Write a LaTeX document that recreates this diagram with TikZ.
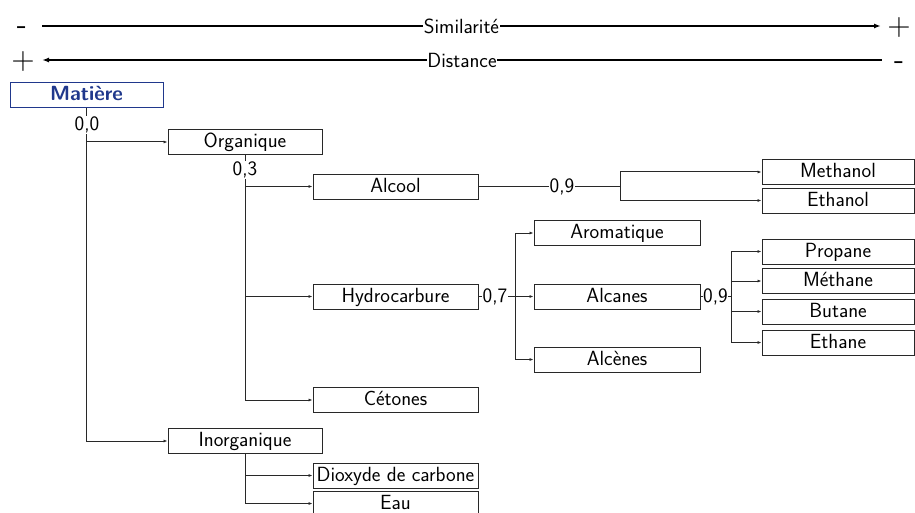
\documentclass[tikz,border=0pt]{standalone}
\usepackage{fontspec}
\usetikzlibrary{arrows.meta}
\definecolor{matblue}{RGB}{32,56,140}
\definecolor{linegray}{RGB}{40,40,40}
\begin{document}
\begin{tikzpicture}[x=1pt,y=-1pt,
  every node/.style={font=\sffamily\fontsize{20.5}{23}\selectfont},
  box/.style={draw=linegray,line width=0.9pt,minimum height=25pt,inner sep=0pt,text height=15pt,text depth=3.5pt,fill=white},
  wA/.style={box,minimum width=153pt},
  wB/.style={box,minimum width=165pt},
  wC/.style={box,minimum width=166pt},
  wD/.style={box,minimum width=152pt},
  lab/.style={fill=white,inner sep=1pt},
  conn/.style={draw=linegray,line width=1pt},
  arr/.style={conn,-{Latex[length=4pt,width=3pt]}},
  axis/.style={draw=black,line width=1.4pt},
  sign/.style={font=\sffamily\fontsize{32}{34}\selectfont,inner sep=0pt}]
\useasboundingbox (0,0) rectangle (915,513);

% axes
\node[sign] (m1) at (22,31) {-};
\node[sign] (p1) at (899,28) {+};
\node[sign] (p2) at (23,62) {+};
\node[sign] (m2) at (899,66) {-};
\coordinate (s0) at (42,26);
\coordinate (s1) at (881,26);
\coordinate (d0) at (42,60);
\coordinate (d1) at (882,60);
\draw[axis,-{Latex[length=7pt,width=5pt]}] (s0) -- node[fill=white,inner sep=0.5pt] (sim) {Similarité} (s1);
\draw[axis,{Latex[length=7pt,width=5pt]}-] (d0) -- node[fill=white,inner sep=0.5pt] (dist) {Distance} (d1);

% nodes
\node[wA,draw=matblue,text=matblue,font=\sffamily\bfseries\fontsize{20.5}{23}\selectfont] (mat) at (86.5,95) {Matière};
\node[box,minimum width=154pt] (org) at (245,142) {Organique};
\node[box,minimum width=154pt] (inorg) at (245,441) {Inorganique};
\node[wB] (alc) at (395.5,186.5) {Alcool};
\node[wB] (hyd) at (395.5,296.5) {Hydrocarbure};
\node[wB] (cet) at (395.5,400) {Cétones};
\node[wB] (diox) at (395.5,475.5) {Dioxyde de carbone};
\node[wB] (eau) at (395.5,503.5) {Eau};
\node[wC] (aro) at (617,233) {Aromatique};
\node[wC] (alca) at (617,296.5) {Alcanes};
\node[wC] (alce) at (617,359.5) {Alcènes};
\node[wD] (meth) at (838,172) {Methanol};
\node[wD] (eth) at (838,200.5) {Ethanol};
\node[wD] (prop) at (838,251.5) {Propane};
\node[wD] (metha) at (838,281) {Méthane};
\node[wD] (but) at (838,311.5) {Butane};
\node[wD] (etha) at (838,342.5) {Ethane};

% junctions
\coordinate (j1) at (620,186.5);
\coordinate (j2) at (515,296.5);
\coordinate (j3) at (731,296.5);

% connectors
\draw[arr] (mat.south) |- (org.west);
\draw[arr] (mat.south) |- (inorg.west);
\draw[arr] (org.south) |- (alc.west);
\draw[arr] (org.south) |- (hyd.west);
\draw[arr] (org.south) |- (cet.west);
\draw[arr] (inorg.south) |- (diox.west);
\draw[arr] (inorg.south) |- (eau.west);
\draw[conn] (alc.east) -- (j1);
\draw[arr] (j1) |- (meth.west);
\draw[arr] (j1) |- (eth.west);
\draw[conn] (hyd.east) -- (j2);
\draw[arr] (j2) |- (aro.west);
\draw[arr] (j2) -- (alca.west);
\draw[arr] (j2) |- (alce.west);
\draw[conn] (alca.east) -- (j3);
\draw[arr] (j3) |- (prop.west);
\draw[arr] (j3) |- (metha.west);
\draw[arr] (j3) |- (but.west);
\draw[arr] (j3) |- (etha.west);

% labels
\node[lab] (l00) at (87,125) {0,0};
\node[lab] (l03) at (245,170) {0,3};
\node[lab] (l09a) at (562,186.5) {0,9};
\node[lab,inner sep=0.5pt] (l07) at (495,296.5) {0,7};
\node[lab,inner sep=0.3pt] (l09b) at (715.5,296.5) {0,9};
\end{tikzpicture}
\end{document}
